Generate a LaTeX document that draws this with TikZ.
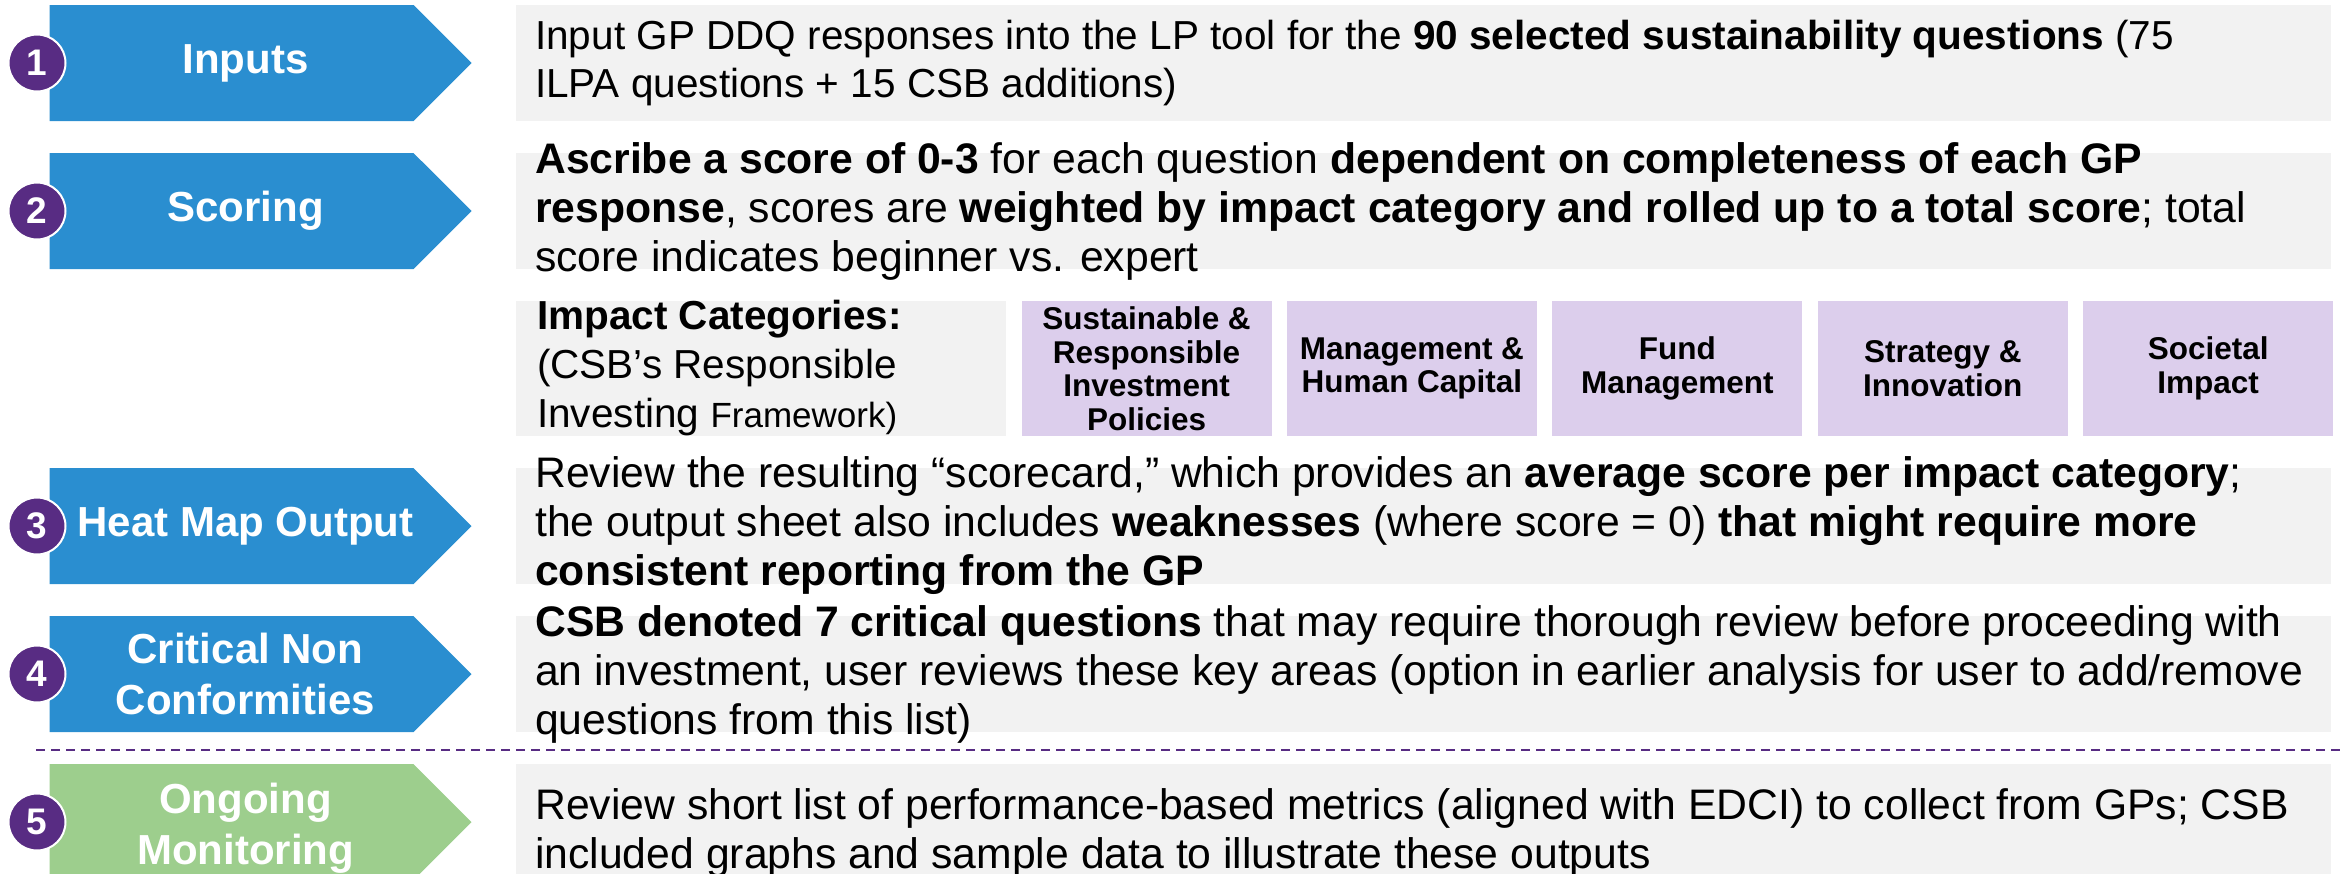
\documentclass[tikz,border=0pt]{standalone}
\usepackage{fontspec}
\setmainfont{Liberation Sans}
\usetikzlibrary{positioning}
\usetikzlibrary{shapes.symbols}
\definecolor{stageblue}{RGB}{42,142,208}
\definecolor{stagegreen}{RGB}{157,206,141}
\definecolor{numpurple}{RGB}{88,44,131}
\definecolor{catpurple}{RGB}{220,206,236}
\definecolor{panelgrey}{RGB}{242,242,242}
\tikzset{
  node distance = 15pt,
  stage/.style = {signal,
                  signal to = east,
                  signal pointer angle = 90,
                  fill = stageblue,
                  minimum width = 422pt,
                  minimum height = 116pt,
                  inner sep = 0pt},
  stagetext/.style = {text = white,
                      align = center,
                      font = \fontsize{42}{51}\selectfont\bfseries,
                      inner sep = 0pt},
  number/.style = {circle,
                   fill = numpurple,
                   draw = white,
                   line width = 2pt,
                   text = white,
                   font = \fontsize{37}{40}\selectfont\bfseries,
                   minimum size = 57pt,
                   inner sep = 0pt},
  panel/.style = {rectangle,
                  fill = panelgrey,
                  anchor = west,
                  minimum width = 1815pt,
                  minimum height = 116pt,
                  inner sep = 0pt},
  desc/.style = {align = left,
                 font = \fontsize{42.7}{49}\selectfont,
                 inner sep = 0pt},
  category/.style = {rectangle,
                     fill = catpurple,
                     align = center,
                     font = \fontsize{31.5}{33.5}\selectfont\bfseries,
                     minimum width = 250pt,
                     minimum height = 135pt,
                     inner sep = 0pt},
  divider/.style = {numpurple,
                    line width = 2.5pt,
                    dash pattern = on 9pt off 6pt}
}

\begin{document}
\begin{tikzpicture}[x = 1pt, y = -1pt]

\useasboundingbox (0,0) rectangle (2343,873);

\node[stage](stage-inputs) at (231.5,63){};
\node[stagetext](label-inputs) at ([xshift = 14pt]stage-inputs.center){Inputs};
\node[number](num-inputs) at (37,63){1};
\node[panel](panel-inputs) at (516,63){};
\node[desc](desc-inputs)[right = 19pt of panel-inputs.west, font = \fontsize{40.5}{48}\selectfont]{Input GP DDQ responses into the LP tool for the \textbf{90 selected sustainability questions} (75\\ILPA questions + 15 CSB additions)};

\node[stage](stage-scoring) at (231.5,211){};
\node[stagetext](label-scoring) at ([xshift = 14pt]stage-scoring.center){Scoring};
\node[number](num-scoring) at (37,211){2};
\node[panel](panel-scoring) at (516,211){};
\node[desc](desc-scoring)[right = 19pt of panel-scoring.west]{\textbf{Ascribe a score of 0-3} for each question \textbf{dependent on completeness of each GP}\\\textbf{response}, scores are \textbf{weighted by impact category and rolled up to a total score}; total\\score indicates beginner vs. expert};

\node[panel](panel-impact)[minimum width = 490pt, minimum height = 135pt] at (516,368.5){};
\node[desc](desc-impact)[right = 21pt of panel-impact.west, font = \fontsize{40.5}{49}\selectfont]{\textbf{Impact Categories:}\\(CSB’s Responsible\\Investing {\fontsize{35}{49}\selectfont Framework)}};

\node[category](cat-policies)[right = of panel-impact]{Sustainable \&\\Responsible\\Investment\\Policies};
\node[category](cat-management)[right = of cat-policies]{Management \&\\Human Capital};
\node[category](cat-fund)[right = of cat-management]{Fund\\Management};
\node[category](cat-strategy)[right = of cat-fund]{Strategy \&\\Innovation};
\node[category](cat-societal)[right = of cat-strategy]{Societal\\Impact};

\node[stage](stage-heatmap) at (231.5,526){};
\node[stagetext](label-heatmap) at ([xshift = 14pt]stage-heatmap.center){Heat Map Output};
\node[number](num-heatmap) at (37,526){3};
\node[panel](panel-heatmap) at (516,526){};
\node[desc](desc-heatmap)[right = 19pt of panel-heatmap.west]{Review the resulting “scorecard,” which provides an \textbf{average score per impact category};\\the output sheet also includes \textbf{weaknesses} (where score = 0) \textbf{that might require more}\\\textbf{consistent reporting from the GP}};

\node[stage](stage-critical) at (231.5,674){};
\node[stagetext](label-critical) at ([xshift = 14pt]stage-critical.center){Critical Non\\Conformities};
\node[number](num-critical) at (37,674){4};
\node[panel](panel-critical) at (516,674){};
\node[desc](desc-critical)[right = 19pt of panel-critical.west]{\textbf{CSB denoted 7 critical questions} that may require thorough review before proceeding with\\an investment, user reviews these key areas (option in earlier analysis for user to add/remove\\questions from this list)};

\coordinate (divider-start) at (36,750);
\coordinate (divider-end) at (2343,750);
\draw[divider] (divider-start) -- (divider-end);

\node[stage](stage-monitoring)[fill = stagegreen] at (231.5,822){};
\node[stagetext](label-monitoring) at ([xshift = 14pt, yshift = -6pt]stage-monitoring.center){Ongoing\\Monitoring};
\node[number](num-monitoring) at (37,822){5};
\node[panel](panel-monitoring) at (516,822){};
\node[desc](desc-monitoring)[right = 19pt of panel-monitoring.west, yshift = -11pt]{Review short list of performance-based metrics (aligned with EDCI) to collect from GPs; CSB\\included graphs and sample data to illustrate these outputs};

\end{tikzpicture}
\end{document}
